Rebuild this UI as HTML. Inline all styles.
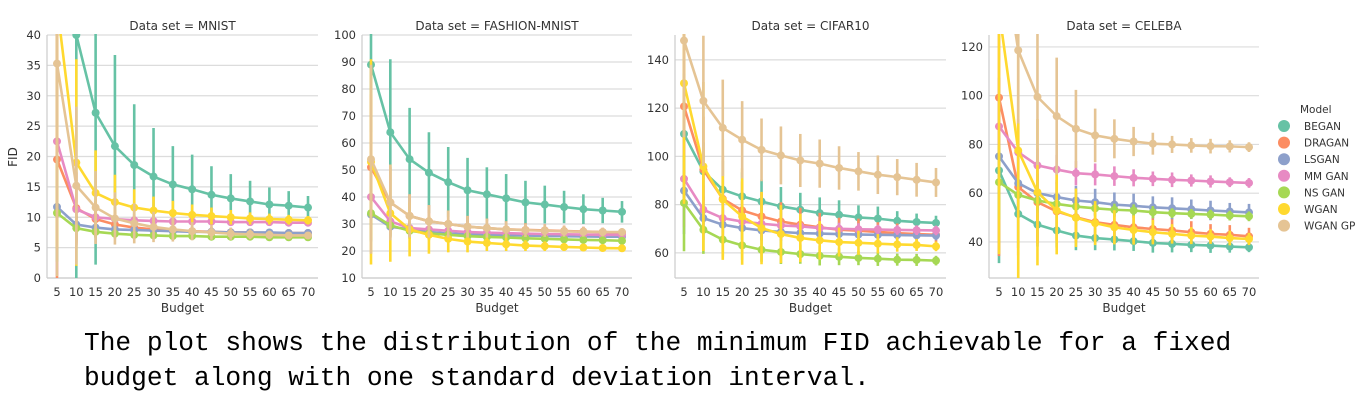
<!DOCTYPE html>
<html><head><meta charset="utf-8">
<style>
html,body{margin:0;padding:0;background:#fff;width:1367px;height:403px;overflow:hidden}
svg text{font-family:"DejaVu Sans","Liberation Sans",sans-serif;fill:#333}
.caption{position:absolute;left:84px;top:326px;font-family:"Liberation Mono",monospace;font-size:26.2px;line-height:35px;color:#000;white-space:pre;margin:0}
</style></head>
<body>
<svg id="chart" width="1367" height="320" style="position:absolute;left:0;top:0"></svg>
<p class="caption">The plot shows the distribution of the minimum FID achievable for a fixed
budget along with one standard deviation interval.</p>
<script>
const budgets = [5,10,15,20,25,30,35,40,45,50,55,60,65,70];
const models = ["BEGAN","DRAGAN","LSGAN","MM GAN","NS GAN","WGAN","WGAN GP"];
const datasetTitles = ["MNIST","FASHION-MNIST","CIFAR10","CELEBA"];
const mnistTicks = [0,5,10,15,20,25,30,35,40];
const fashionTicks = [10,20,30,40,50,60,70,80,90,100];
const cifarTicks = [60,80,100,120,140];
const celebaTicks = [40,60,80,100,120];

// MNIST
const mnist_BEGAN = [55,40,27.2,21.7,18.6,16.7,15.4,14.6,13.7,13.1,12.6,12.1,11.9,11.6];
const mnist_BEGAN_sd = [30,40,25,15,10,8,6.3,5.7,4.7,4,3.4,2.8,2.4,1.9];
const mnist_DRAGAN = [19.5,11.5,9.7,8.8,8.3,8.0,7.8,7.7,7.6,7.5,7.5,7.4,7.4,7.4];
const mnist_DRAGAN_sd = [25,6,3,2,1.5,1.2,1,0.9,0.8,0.7,0.6,0.6,0.5,0.5];
const mnist_LSGAN = [11.7,8.8,8.3,8.0,7.9,7.8,7.7,7.6,7.6,7.5,7.5,7.5,7.4,7.4];
const mnist_LSGAN_sd = [9,3,1.5,1,0.8,0.7,0.6,0.5,0.5,0.5,0.4,0.4,0.4,0.4];
const mnist_MMGAN = [22.5,11.3,10,9.7,9.5,9.4,9.3,9.3,9.3,9.2,9.2,9.2,9.1,9.1];
const mnist_MMGAN_sd = [22,6,2.5,1.5,1,0.8,0.7,0.6,0.5,0.5,0.5,0.4,0.4,0.4];
const mnist_NSGAN = [10.7,8.2,7.6,7.3,7.1,7.0,6.9,6.9,6.8,6.8,6.8,6.7,6.7,6.7];
const mnist_NSGAN_sd = [8,2,1,0.8,0.6,0.5,0.5,0.4,0.4,0.4,0.3,0.3,0.3,0.3];
const mnist_WGAN = [45,19,14,12.5,11.6,11.1,10.7,10.4,10.2,10.0,9.8,9.7,9.6,9.5];
const mnist_WGAN_sd = [40,17,7,4.5,3,2.3,2,1.7,1.4,1.2,1,0.9,0.8,0.7];
const mnist_WGANGP = [35.3,15.2,11.6,9.8,9,8.4,8,7.7,7.5,7.3,7.2,7.1,7.0,7.0];
const mnist_WGANGP_sd = [35,13,6,4.3,3.3,2.5,2,1.5,1.2,1,0.8,0.7,0.6,0.5];

// FASHION-MNIST
const fashion_BEGAN = [89,64,54,49,45.5,42.5,41,39.5,38,37.2,36.3,35.5,35,34.5];
const fashion_BEGAN_sd = [25,27,19,15,13,12,10,9,8,7,6,5.5,4.7,4];
const fashion_DRAGAN = [51,38,33,31,30,29,28.5,28,27.8,27.6,27.4,27.2,27,26.8];
const fashion_DRAGAN_sd = [27,13,8,6,5,4,3.5,3,2.5,2.3,2,1.8,1.6,1.5];
const fashion_LSGAN = [33.5,29,28,27,26.5,26.2,26,25.8,25.7,25.6,25.5,25.4,25.3,25.3];
const fashion_LSGAN_sd = [10,4,3,2.5,2,1.8,1.5,1.3,1.2,1.1,1,1,0.9,0.9];
const fashion_MMGAN = [40,31,28.5,28,27.5,27,26.8,26.6,26.4,26.3,26.2,26.1,26,26];
const fashion_MMGAN_sd = [15,5,3,2.5,2,1.8,1.5,1.3,1.2,1.1,1,1,0.9,0.9];
const fashion_NSGAN = [34,29.5,27.5,26.5,26,25.5,25.2,25,24.7,24.5,24.3,24.1,24,23.8];
const fashion_NSGAN_sd = [10,4,3,2.5,2,1.8,1.5,1.3,1.2,1.1,1,1,0.9,0.9];
const fashion_WGAN = [53,34,28,26,24.5,23.5,23,22.5,22,21.8,21.5,21.3,21.1,21];
const fashion_WGAN_sd = [38,18,10,7,5,4,3,2.5,2,1.8,1.5,1.3,1.2,1];
const fashion_WGANGP = [54,38,33,31,30,29,28.5,28,27.7,27.5,27.3,27.1,27,27];
const fashion_WGANGP_sd = [35,14,8,6,5,4,3.5,3,2.5,2.3,2,1.8,1.6,1.5];

// CIFAR10
const cifar_BEGAN = [109.3,93.8,86.2,83.4,81.3,79.3,77.9,76.5,75.8,74.7,74.2,73.3,72.8,72.4];
const cifar_BEGAN_sd = [25,12,12,10,9,8,7,6.5,6,5,5,4,3.5,3];
const cifar_DRAGAN = [120.7,94.5,82.4,77.6,75.1,73,71.7,70.6,69.6,69.2,68.7,68.2,67.8,67.5];
const cifar_DRAGAN_sd = [35,22,18,12,10,8,7,6,5,5,4,4,3.5,3];
const cifar_LSGAN = [85.8,74.4,71.7,70.3,69.3,68.7,68.2,68,67.8,67.6,67.5,67.4,67.3,67.2];
const cifar_LSGAN_sd = [18,9,6,5,4,3.5,3,3,2.5,2.5,2,2,2,2];
const cifar_MMGAN = [90.7,77.9,74.4,73,72.1,71.4,71,70.3,70,69.8,69.7,69.5,69.4,69.3];
const cifar_MMGAN_sd = [20,10,6,5,4,3.5,3,3,2.5,2.5,2,2,2,2];
const cifar_NSGAN = [80.7,69.6,65.5,63.1,61.3,60.4,59.5,58.8,58.4,57.9,57.6,57.2,57.1,56.8];
const cifar_NSGAN_sd = [20,10,7,6,5,5,4,4,3.5,3,3,2.5,2.5,2];
const cifar_WGAN = [130.3,95.8,82.1,75.1,70.3,67.8,66.2,65.2,64.5,64.2,63.8,63.5,63.3,62.7];
const cifar_WGAN_sd = [50,35,25,20,15,12,10,8,6,5,4,3,2.5,2];
const cifar_WGANGP = [148,123,111.8,106.9,102.7,100.4,98.3,97,95.2,93.8,92.4,91.4,90.3,89.2];
const cifar_WGANGP_sd = [40,27,20,16,13,12,11,10,9,8,8,7.5,7,6];

// CELEBA
const celeba_BEGAN = [69.3,51.5,47.1,44.7,42.6,41.6,41,40.3,39.6,39.2,38.8,38.5,38.1,37.8];
const celeba_BEGAN_sd = [38,14,9,7,6,5,4.5,4,4,3.5,3,3,2.5,2];
const celeba_DRAGAN = [99.2,62.5,56.3,52.5,50.1,48.1,47,46,45.3,44.7,44,43.3,42.9,42.3];
const celeba_DRAGAN_sd = [65,28,17,12,10,8,7,6,5.5,5,4.5,4,4,3.5];
const celeba_LSGAN = [75.1,64.1,60,58.4,57,56.3,55.3,54.8,54.2,53.8,53.4,52.9,52.5,52.1];
const celeba_LSGAN_sd = [25,12,8,7,6,5.5,5,5,4.5,4.5,4,4,3.5,3.5];
const celeba_MMGAN = [87.4,76.8,71.4,69.7,68.2,67.7,67,66.3,65.9,65.5,65.2,64.8,64.5,64.2];
const celeba_MMGAN_sd = [20,12,7,6,5,4.5,4,3.5,3,3,2.5,2.5,2,2];
const celeba_NSGAN = [64.5,59.3,57,55.6,54.5,53.8,53.2,52.9,52.2,51.8,51.5,51.2,50.8,50.5];
const celeba_NSGAN_sd = [15,5,4,3.5,3,3,2.5,2.5,2.5,2,2,2,2,2];
const celeba_WGAN = [135,77.5,60.4,52.9,49.9,47.7,46,44.9,44,43.3,42.6,42.2,41.6,41.2];
const celeba_WGAN_sd = [100,55,30,18,12,9,7,6,5,4,3.5,3,3,2.5];
const celeba_WGANGP = [170,118.6,99.5,91.6,86.4,83.7,82.3,81.2,80.3,80,79.6,79.3,79.2,78.9];
const celeba_WGANGP_sd = [40,30,28,24,16,11,8,6,4.5,3.5,3,3,2.5,2];

const colors = ["#66c2a5","#fc8d62","#8da0cb","#e78ac3","#a6d854","#ffd92f","#e5c494"];
const datasets = [
  {means:[mnist_BEGAN,mnist_DRAGAN,mnist_LSGAN,mnist_MMGAN,mnist_NSGAN,mnist_WGAN,mnist_WGANGP],
   sds:[mnist_BEGAN_sd,mnist_DRAGAN_sd,mnist_LSGAN_sd,mnist_MMGAN_sd,mnist_NSGAN_sd,mnist_WGAN_sd,mnist_WGANGP_sd],
   ticks:mnistTicks, ymin:0, ymax:40, left:47, right:318, x0:57, x1:308, key:"mnist"},
  {means:[fashion_BEGAN,fashion_DRAGAN,fashion_LSGAN,fashion_MMGAN,fashion_NSGAN,fashion_WGAN,fashion_WGANGP],
   sds:[fashion_BEGAN_sd,fashion_DRAGAN_sd,fashion_LSGAN_sd,fashion_MMGAN_sd,fashion_NSGAN_sd,fashion_WGAN_sd,fashion_WGANGP_sd],
   ticks:fashionTicks, ymin:10, ymax:100, left:362, right:632, x0:371, x1:622, key:"fashion"},
  {means:[cifar_BEGAN,cifar_DRAGAN,cifar_LSGAN,cifar_MMGAN,cifar_NSGAN,cifar_WGAN,cifar_WGANGP],
   sds:[cifar_BEGAN_sd,cifar_DRAGAN_sd,cifar_LSGAN_sd,cifar_MMGAN_sd,cifar_NSGAN_sd,cifar_WGAN_sd,cifar_WGANGP_sd],
   ticks:cifarTicks, ymin:49.6, ymax:150.3, left:675, right:946, x0:684, x1:936, key:"cifar10"},
  {means:[celeba_BEGAN,celeba_DRAGAN,celeba_LSGAN,celeba_MMGAN,celeba_NSGAN,celeba_WGAN,celeba_WGANGP],
   sds:[celeba_BEGAN_sd,celeba_DRAGAN_sd,celeba_LSGAN_sd,celeba_MMGAN_sd,celeba_NSGAN_sd,celeba_WGAN_sd,celeba_WGANGP_sd],
   ticks:celebaTicks, ymin:25.2, ymax:124.9, left:989, right:1259, x0:999, x1:1249, key:"celeba"}
];
const TOP = 35, BOTTOM = 278;
const NS = "http://www.w3.org/2000/svg";
const svg = document.getElementById("chart");
function mk(tag, attrs, parent){
  const e = document.createElementNS(NS, tag);
  for (const k in attrs) e.setAttribute(k, attrs[k]);
  (parent||svg).appendChild(e);
  return e;
}
const defs = mk("defs", {});
datasets.forEach((d, di) => {
  const xScale = i => d.x0 + (d.x1 - d.x0) * i / (budgets.length - 1);
  const yScale = v => BOTTOM - (v - d.ymin) / (d.ymax - d.ymin) * (BOTTOM - TOP);
  const g = mk("g", {});
  
  
  d.ticks.forEach(t => {
    const y = yScale(t);
    const gl = mk("line", {x1:d.left, x2:d.right, y1:y, y2:y, stroke:"#dcdcdc", "stroke-width":1.2}, g);
    
    
    const tl = mk("text", {x:d.left - 6, y:y + 4, "text-anchor":"end", "font-size":11.5}, g);
    tl.textContent = t;
    
    
  });
  const sp1 = mk("line", {x1:d.left, x2:d.left, y1:TOP, y2:BOTTOM, stroke:"#cccccc", "stroke-width":1.2}, g);
  
  
  const sp2 = mk("line", {x1:d.left, x2:d.right, y1:BOTTOM, y2:BOTTOM, stroke:"#cccccc", "stroke-width":1.2}, g);
  
  
  budgets.forEach((b, i) => {
    const xl = mk("text", {x:xScale(i), y:296, "text-anchor":"middle", "font-size":11.5}, g);
    xl.textContent = b;
    
    
  });
  const xt = mk("text", {x:(d.left + d.right) / 2, y:312, "text-anchor":"middle", "font-size":12}, g);
  xt.textContent = "Budget";
  
  
  const tt = mk("text", {x:(d.left + d.right) / 2, y:30, "text-anchor":"middle", "font-size":12}, g);
  tt.textContent = "Data set = " + datasetTitles[di];
  
  
  const cp = mk("clipPath", {id:"clip" + di}, defs);
  mk("rect", {x:d.left, y:TOP - 1, width:d.right - d.left + 10, height:BOTTOM - TOP + 1}, cp);
  const plot = mk("g", {"clip-path":"url(#clip" + di + ")"}, g);
  d.means.forEach((m, si) => {
    const col = colors[si];
    const sg = mk("g", {}, plot);
    
    
    const pts = m.map((v, i) => xScale(i) + "," + yScale(v)).join(" ");
    const pl = mk("polyline", {points:pts, fill:"none", stroke:col, "stroke-width":2.6}, sg);
    
    
    m.forEach((v, i) => {
      const s = d.sds[si][i];
      const eb = mk("line", {x1:xScale(i), x2:xScale(i), y1:yScale(v - s), y2:yScale(v + s), stroke:col, "stroke-width":2.6}, sg);
      
      
      const c = mk("circle", {cx:xScale(i), cy:yScale(v), r:4, fill:col}, sg);
      
      
    });
  });
});
const yl = mk("text", {x:17, y:157, "text-anchor":"middle", "font-size":12, transform:"rotate(-90 17 157)"});
yl.textContent = "FID";


const lg = mk("g", {});


const lt = mk("text", {x:1300, y:113, "font-size":10.5}, lg);
lt.textContent = "Model";


models.forEach((name, i) => {
  const y = 126 + i * 16.6;
  const c = mk("circle", {cx:1284, cy:y, r:6, fill:colors[i]}, lg);
  
  
  const t = mk("text", {x:1304, y:y + 4, "font-size":10.5}, lg);
  t.textContent = name;
  
  
});
</script>
</body></html>
